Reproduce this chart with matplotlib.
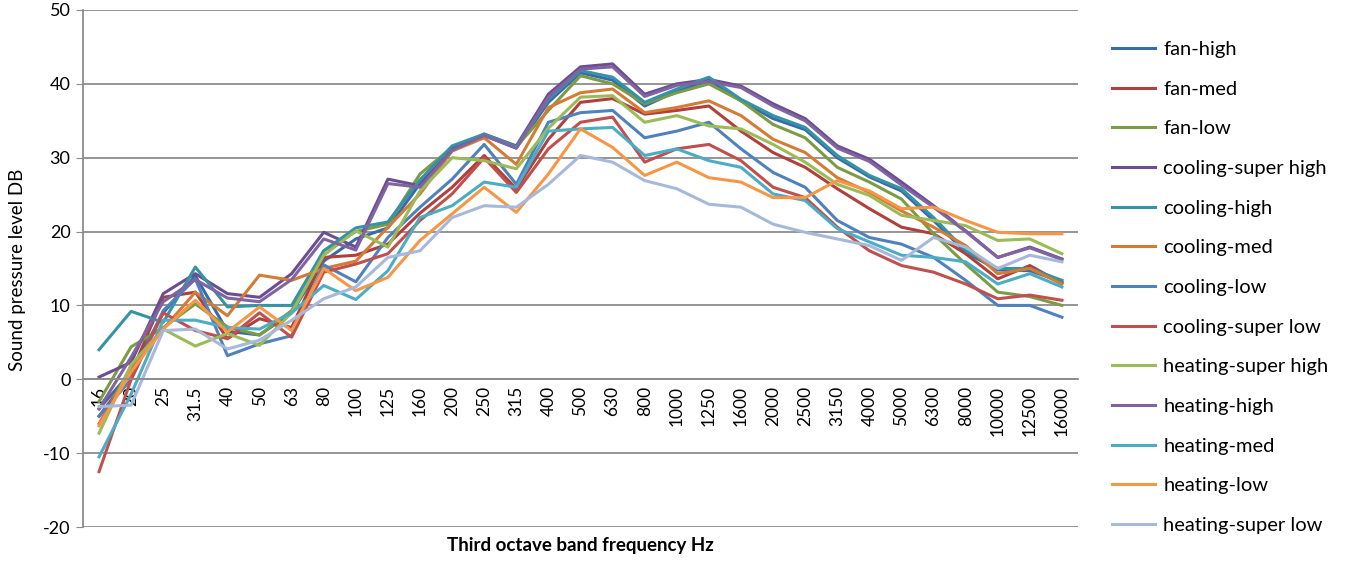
import matplotlib
matplotlib.use("Agg")
import matplotlib.pyplot as plt

freqs = ['16', '20', '25', '31.5', '40', '50', '63', '80', '100', '125', '160', '200', '250',
         '315', '400', '500', '630', '800', '1000', '1250', '1600', '2000', '2500', '3150',
         '4000', '5000', '6300', '8000', '10000', '12500', '16000']

fan_high = [-4, 1, 9, 14, 6.5, 6, 9, 16, 19, 20.5, 26.5, 31, 33, 31.3, 37.5, 41.5, 40.5, 37, 39,
            40.5, 37.7, 35.3, 33.8, 30, 27.4, 25.5, 21.5, 17.2, 14.8, 14.7, 13.2]
fan_med = [-5, 0.8, 11.1, 11.8, 5.5, 8.2, 7, 16.5, 16.8, 18.3, 22.5, 26, 30.3, 25.8, 32.5, 37.5,
           38, 35.9, 36.4, 37, 33.6, 30.7, 28.7, 25.8, 23.1, 20.6, 19.7, 17, 13.6, 15.4, 13]
fan_low = [-3, 4.4, 7, 10.2, 7.1, 6, 9.3, 17.4, 20, 21, 27.8, 31.4, 33, 31.5, 36.4, 41.1, 40,
           37.3, 38.8, 40, 37.7, 34.5, 32.7, 28.7, 26.7, 24.4, 19.7, 15.6, 11.8, 11.2, 10]
cooling_super_high = [0.3, 2.3, 11.6, 14.3, 11.6, 11.1, 14.3, 19.9, 17.9, 27.1, 26.2, 31.2, 33.2,
                      31.6, 38.6, 42.3, 42.7, 38.6, 40, 40.6, 39.7, 37.3, 35.3, 31.6, 29.8, 26.7,
                      23.5, 20.1, 16.5, 17.9, 16.3]
cooling_high = [4, 9.2, 7.7, 15.2, 9.8, 10, 10, 17.4, 20.5, 21.3, 27, 31.6, 33.2, 31.5, 37.9,
                41.8, 40.9, 37.5, 39.3, 40.9, 37.9, 35.7, 34.1, 30.3, 27.6, 25.8, 21.9, 17.4,
                15, 15, 13.4]
cooling_med = [-6, 1.7, 6.8, 11.8, 8.6, 14.1, 13.4, 15, 16, 20.6, 25.1, 30.9, 32.7, 29.1, 36.8,
               38.8, 39.3, 36.1, 36.8, 37.7, 35.7, 32.5, 30.7, 27.3, 25.3, 22.8, 20.6, 18.1,
               14.3, 15, 12.9]
cooling_low = [-5, 0, 9.3, 13.6, 3.2, 4.8, 5.9, 15.5, 13.2, 19.2, 23.3, 27.1, 31.8, 26.4, 34.8,
               36.1, 36.4, 32.7, 33.6, 34.8, 31.2, 28, 26, 21.5, 19.2, 18.3, 16.5, 13.4, 10, 10,
               8.4]
cooling_super_low = [-12.5, 0, 9, 6.6, 5.5, 9, 5.7, 14.5, 15.6, 17, 21.5, 25.1, 30, 25.3, 31.2,
                     34.8, 35.5, 29.4, 31.2, 31.8, 29.6, 26, 24.6, 20.6, 17.4, 15.4, 14.5, 12.9,
                     10.9, 11.4, 10.7]
heating_super_high = [-7.3, 2, 6.8, 4.5, 6.2, 4.6, 9, 16.8, 20.1, 17.9, 25.5, 30, 29.6, 28.5, 34,
                      38.2, 38.4, 34.8, 35.7, 34.3, 33.9, 31.8, 29.4, 26.4, 24.9, 22.2, 21.5,
                      20.8, 18.8, 19, 17]
heating_high = [-4, 3, 10.5, 13.5, 11, 10.5, 13.5, 19, 17.5, 26.5, 26, 31, 33, 31.3, 38.2, 42,
                42.3, 38.3, 39.8, 40.3, 39.5, 37, 35, 31.3, 29.5, 26.3, 23.3, 20, 16.5, 17.8,
                16.2]
heating_med = [-10.5, -2, 8, 8, 7, 6.8, 9, 12.7, 10.8, 14.7, 21.9, 23.5, 26.7, 26, 33.6, 33.9,
               34.1, 30.3, 31.2, 29.6, 28.7, 25.1, 24.2, 20.4, 18.6, 16.8, 16.5, 15.9, 12.9,
               14.3, 12.5]
heating_low = [-6.3, 1, 6.8, 10.7, 6.4, 9.8, 6.6, 15, 12, 13.8, 18.8, 22.4, 26, 22.6, 27.8, 33.9,
               31.4, 27.6, 29.4, 27.3, 26.7, 24.6, 24.6, 26.9, 25.5, 23.1, 23.3, 21.5, 19.9,
               19.7, 19.7]
heating_super_low = [-3.7, -3.5, 6.6, 6.8, 4.1, 5.3, 8, 10.9, 12.5, 16.5, 17.4, 21.9, 23.5, 23.3,
                     26.4, 30.3, 29.4, 26.9, 25.8, 23.7, 23.3, 21, 19.9, 19, 18.1, 16.1, 19.2,
                     17.9, 15, 16.8, 15.9]

labels = ['fan-high', 'fan-med', 'fan-low', 'cooling-super high', 'cooling-high', 'cooling-med',
          'cooling-low', 'cooling-super low', 'heating-super high', 'heating-high', 'heating-med',
          'heating-low', 'heating-super low']
series = [fan_high, fan_med, fan_low, cooling_super_high, cooling_high, cooling_med, cooling_low,
          cooling_super_low, heating_super_high, heating_high, heating_med, heating_low,
          heating_super_low]
colors = ['#3A6BA8', '#B0403D', '#7B9B44', '#6B4D90', '#3593A6', '#D47B35', '#4F81BD',
          '#C0504D', '#9BBB59', '#8064A2', '#4BACC6', '#F79646', '#A7B9DA']

plt.rcParams['font.family'] = ['Lato', 'DejaVu Sans']
plt.rcParams['axes.unicode_minus'] = False

fig = plt.figure(figsize=(13.48, 5.62), dpi=100)
ax = fig.add_axes([83 / 1348, 35 / 562, (1078 - 83) / 1348, (527 - 10) / 562])

x = list(range(len(freqs)))
for ys, lab, c in zip(series, labels, colors):
    ax.plot(x, ys, color=c, lw=2.2, label=lab, solid_joinstyle='round')

ax.set_xlim(-0.5, len(freqs) - 0.5)
ax.set_ylim(-20, 50)
ax.set_yticks(range(-20, 51, 10))
ax.yaxis.grid(True, color='#8C8C8C', lw=1.3)
ax.set_axisbelow(True)
for s in ['top', 'right']:
    ax.spines[s].set_visible(False)
ax.spines['left'].set_color('#8C8C8C')
ax.spines['left'].set_linewidth(1.3)
ax.spines['bottom'].set_position(('data', 0))
ax.spines['bottom'].set_color('#8C8C8C')
ax.spines['bottom'].set_linewidth(1.3)
ax.set_xticks(x)
ax.set_xticklabels(freqs, rotation=90, fontsize=12.5)
ax.tick_params(axis='x', length=0, pad=5)
ax.tick_params(axis='y', length=5, color='#8C8C8C', labelsize=13, pad=4)

fig.text(580 / 1348, 1 - 546 / 562, 'Third octave band frequency Hz', fontsize=13.5,
         fontweight='bold', ha='center', va='center')
fig.text(18 / 1348, 1 - 270 / 562, 'Sound pressure level DB', fontsize=13.5,
         rotation=90, ha='center', va='center')

leg = fig.legend(loc='upper left', bbox_to_anchor=(1104 / 1348, 1 - 33 / 562), frameon=False,
                 fontsize=14.5, handlelength=2.15, handletextpad=0.4, labelspacing=1.12,
                 borderaxespad=0)

fig.savefig('out.png', dpi=100)
